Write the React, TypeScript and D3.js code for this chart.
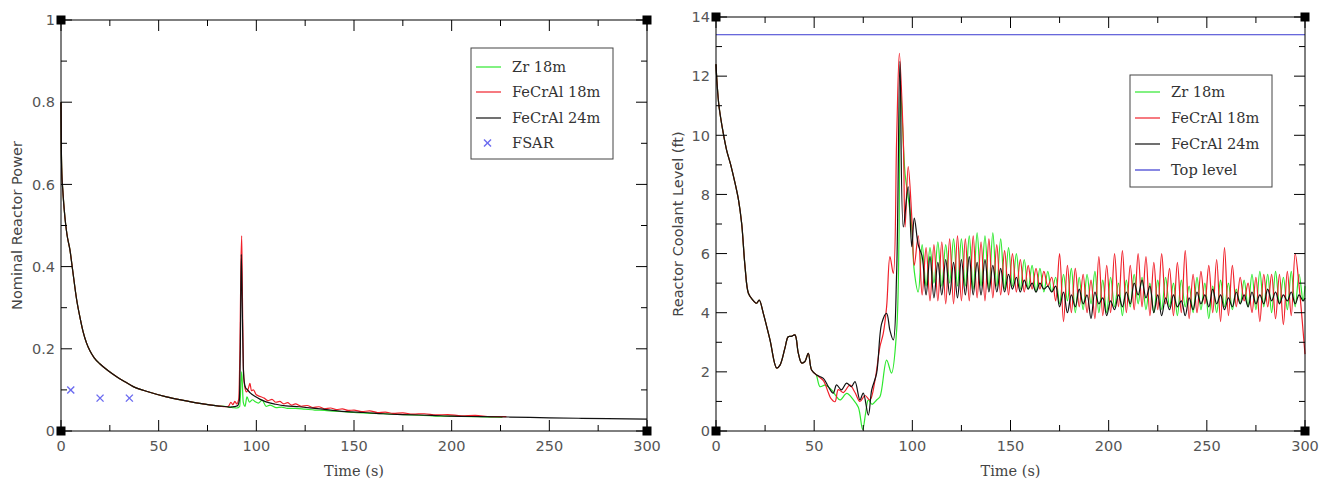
import React from 'react';
import * as d3 from 'd3';

// ---------- shared axis data ----------
const TIME_TICKS = [0, 50, 100, 150, 200, 250, 300];
const TIME_MINOR = [25, 75, 125, 175, 225, 275];
const POWER_TICKS = [0, 0.2, 0.4, 0.6, 0.8, 1];
const POWER_TICK_LABELS = ['0', '0.2', '0.4', '0.6', '0.8', '1'];
const POWER_MINOR = [0.1, 0.3, 0.5, 0.7, 0.9];
const LEVEL_TICKS = [0, 2, 4, 6, 8, 10, 12, 14];
const LEVEL_MINOR = [1, 3, 5, 7, 9, 11, 13];

// ---------- left chart: nominal reactor power ----------
const POWER_T_EARLY = [0, 0.15, 0.35, 1, 2, 3, 4.6, 6, 8, 10, 11.4, 13, 14.8, 17, 20, 24, 28.5, 33, 37, 45, 54, 62, 71, 80, 85];
const POWER_V_EARLY = [0.8, 0.7, 0.64, 0.58, 0.52, 0.48, 0.44, 0.39, 0.32, 0.27, 0.24, 0.215, 0.195, 0.178, 0.163, 0.147, 0.132, 0.119, 0.108, 0.095, 0.083, 0.075, 0.067, 0.061, 0.059];

const FE24_POWER_T = [86.5, 88, 89.5, 90.5, 91.3, 91.8, 92.3, 92.8, 93.3, 93.8, 94.5, 95.5, 97, 99, 102, 105, 110, 115, 122, 130, 138, 146, 155, 165, 175, 190, 200, 215, 230, 250, 265, 280, 300];
const FE24_POWER_V = [0.058, 0.059, 0.06, 0.062, 0.075, 0.2, 0.43, 0.3, 0.16, 0.12, 0.105, 0.1, 0.092, 0.085, 0.077, 0.071, 0.065, 0.061, 0.059, 0.055, 0.051, 0.047, 0.045, 0.042, 0.04, 0.038, 0.036, 0.035, 0.034, 0.032, 0.031, 0.03, 0.029];

const FE18_POWER_T = [86, 87, 88, 89, 90, 91, 91.6, 92.1, 92.5, 92.9, 93.4, 94, 95, 96, 96.7, 97.5, 98.5, 100, 102, 104, 106, 108, 110, 112, 114, 116, 118, 120, 123, 126, 129, 132, 135, 138, 141, 144, 147, 150, 154, 158, 162, 166, 170, 175, 180, 186, 192, 198, 205, 212, 220, 228];
const FE18_POWER_V = [0.062, 0.07, 0.064, 0.072, 0.066, 0.078, 0.2, 0.4, 0.475, 0.32, 0.15, 0.11, 0.095, 0.105, 0.116, 0.098, 0.1, 0.088, 0.084, 0.08, 0.074, 0.077, 0.07, 0.072, 0.066, 0.069, 0.063, 0.066, 0.06, 0.062, 0.057, 0.059, 0.054, 0.056, 0.052, 0.054, 0.05, 0.051, 0.047, 0.049, 0.045, 0.046, 0.043, 0.044, 0.041, 0.042, 0.039, 0.04, 0.037, 0.038, 0.035, 0.035];

const ZR_POWER_T = [86, 88, 90, 91.5, 92.5, 93.3, 94.2, 95.2, 96.5, 98, 99.5, 101, 103, 105, 107, 110, 113, 116, 120, 125, 130, 135, 140, 145, 150, 160, 170, 180, 190, 200, 210, 220, 226];
const ZR_POWER_V = [0.058, 0.057, 0.056, 0.06, 0.144, 0.07, 0.06, 0.083, 0.07, 0.076, 0.071, 0.068, 0.075, 0.06, 0.063, 0.057, 0.058, 0.055, 0.055, 0.053, 0.051, 0.05, 0.048, 0.047, 0.045, 0.043, 0.041, 0.039, 0.037, 0.036, 0.035, 0.034, 0.033];

const FSAR_T = [5, 20, 35];
const FSAR_V = [0.1, 0.08, 0.08];

// ---------- right chart: reactor coolant level ----------
const TOP_LEVEL = 13.4;

const LEVEL_T_EARLY = [0, 0.5, 1.5, 3.7, 5.4, 7.5, 9.7, 11.5, 13.1, 14.8, 16.5, 18.5, 20.7, 22, 24.1, 27.5, 30.9, 32.6, 35.1, 36.8, 38.5, 40.2, 41.9, 43.6, 45.3, 47, 48.7];
const LEVEL_V_EARLY = [12.4, 11.8, 11.0, 10.07, 9.5, 9.0, 8.38, 7.8, 7.0, 5.55, 4.66, 4.45, 4.32, 4.43, 3.98, 3.08, 2.13, 2.23, 2.8, 3.19, 3.2, 3.25, 2.64, 2.3, 2.35, 2.63, 2.06];

const FE24_LEVEL_T_MID = [51.3, 54.7, 57.2, 59.7, 61.4, 63.9, 66.5, 69, 70.8, 73.3, 75, 77.6, 79.3, 81.8, 84.4, 86.9, 88.6, 90.3, 92, 93.7, 95.4, 97.9, 99.7];
const FE24_LEVEL_V_MID = [1.89, 1.78, 1.5, 1.28, 1.56, 1.39, 1.62, 1.5, 1.67, 1.05, 1.28, 0.54, 1.39, 1.95, 3.64, 3.98, 3.4, 3.08, 5.34, 12.5, 6.9, 8.26, 6.23];

const FE18_LEVEL_T_MID = [51.3, 54.7, 57.2, 58.5, 60.6, 62.3, 64.8, 68.2, 70.8, 73.3, 75.9, 78.4, 81, 83.5, 85.2, 86.9, 88.6, 90.3, 92, 93.4, 95.4, 96.3, 97.9, 99.7];
const FE18_LEVEL_V_MID = [1.89, 1.7, 1.3, 1.1, 0.99, 1.4, 1.3, 1.55, 1.3, 1.0, 1.2, 1.05, 1.72, 2.85, 3.3, 4.2, 5.9, 5.33, 9.84, 12.77, 9.84, 6.9, 8.94, 7.25];

const ZR_LEVEL_T_MID = [51, 53, 55.5, 58.9, 61, 63.2, 66.6, 70, 72.5, 74.7, 76.2, 77.6, 79.5, 81.8, 83.5, 86.9, 89.4, 92, 93.2, 94.0, 96.3, 97.9, 99.7];
const ZR_LEVEL_V_MID = [1.9, 1.5, 1.55, 1.39, 1.2, 1.05, 1.27, 1.05, 0.8, 0.05, 0.6, 1.05, 0.9, 1.05, 1.16, 2.4, 1.96, 3.4, 6.46, 11.5, 8.7, 7.9, 6.9];

const LEVEL_T_OSC = [
  101, 103, 105, 107, 109, 111, 113, 115, 117, 119,
  121, 123, 125, 127, 129, 131, 133, 135, 137, 139,
  141, 143, 145, 147, 149, 151, 153, 155, 157, 159,
  161, 163, 165, 167, 169, 171, 173, 175, 177, 179,
  181, 183, 185, 187, 189, 191, 193, 195, 197, 199,
  201, 203, 205, 207, 209, 211, 213, 215, 217, 219,
  221, 223, 225, 227, 229, 231, 233, 235, 237, 239,
  241, 243, 245, 247, 249, 251, 253, 255, 257, 259,
  261, 263, 265, 267, 269, 271, 273, 275, 277, 279,
  281, 283, 285, 287, 289, 291, 293, 295, 297, 299,
  300,
];
const FE18_LEVEL_V_OSC = [
  5.6, 6.6, 4.6, 6.2, 4.4, 6.3, 4.4, 6.4, 4.3, 6.5,
  4.3, 6.6, 4.4, 6.5, 4.4, 6.6, 4.5, 6.4, 4.4, 6.5,
  4.5, 6.3, 4.6, 6.1, 4.6, 6.0, 4.7, 5.8, 4.7, 5.6,
  4.8, 5.5, 4.8, 5.4, 4.9, 5.2, 4.4, 6.0, 3.7, 5.6,
  4.0, 5.5, 4.2, 5.3, 4.0, 5.1, 3.8, 5.9, 3.9, 5.6,
  4.0, 6.0, 4.2, 6.1, 4.0, 5.6, 4.1, 6.0, 4.2, 5.9,
  3.9, 5.7, 4.1, 6.0, 4.3, 5.5, 3.9, 5.7, 4.0, 6.1,
  3.8, 5.3, 4.0, 5.4, 4.3, 5.6, 4.0, 5.8, 3.7, 6.2,
  3.9, 5.6, 4.2, 5.2, 4.4, 5.0, 4.0, 5.2, 3.7, 5.3,
  4.2, 5.3, 3.8, 5.3, 3.6, 5.4, 3.9, 6.0, 4.9, 3.4,
  2.6,
];
const FE24_LEVEL_V_OSC = [
  7.2, 6.3, 5.9, 4.6, 5.9, 4.5, 5.7, 4.6, 5.8, 4.6,
  5.7, 4.5, 5.8, 4.6, 5.9, 4.6, 5.7, 4.6, 5.8, 4.7,
  5.6, 4.7, 5.5, 4.7, 5.3, 4.8, 5.2, 4.7, 5.1, 4.8,
  5.0, 4.7, 5.0, 4.8, 4.9, 4.7, 4.9, 4.2, 4.7, 4.0,
  4.6, 4.2, 4.8, 4.3, 4.6, 3.8, 4.7, 4.3, 4.5, 3.9,
  4.4, 4.1, 4.6, 4.2, 4.7, 4.3, 5.0, 4.6, 5.1, 4.5,
  4.9, 4.0, 4.6, 3.9, 4.5, 4.1, 4.6, 4.2, 4.4, 3.9,
  4.5, 4.1, 4.7, 4.3, 4.6, 4.2, 4.8, 4.3, 4.6, 4.1,
  4.5, 4.2, 4.7, 4.3, 4.6, 4.2, 4.7, 4.3, 4.6, 4.3,
  4.8, 4.4, 4.7, 4.3, 4.6, 4.4, 4.7, 4.3, 4.6, 4.4,
  4.5,
];
const ZR_LEVEL_V_OSC = [
  5.4, 4.7, 6.3, 4.9, 6.2, 5.0, 6.4, 4.9, 6.3, 5.0,
  6.5, 4.9, 6.5, 4.9, 6.6, 4.8, 6.7, 4.9, 6.6, 4.8,
  6.7, 4.9, 6.5, 4.8, 6.2, 4.9, 6.0, 4.8, 5.8, 4.8,
  5.6, 4.7, 5.5, 4.7, 5.4, 4.7, 5.2, 4.3, 5.3, 4.4,
  5.5, 4.0, 5.2, 4.1, 5.3, 4.3, 5.4, 4.0, 5.1, 4.0,
  5.2, 4.2, 5.0, 3.9, 5.1, 4.2, 5.3, 4.3, 5.2, 4.1,
  5.0, 4.0, 5.1, 4.1, 5.2, 4.2, 5.0, 3.9, 5.1, 4.2,
  4.9, 4.0, 5.2, 4.1, 5.0, 3.8, 4.9, 4.0, 5.1, 4.2,
  5.0, 4.1, 4.8, 4.3, 5.1, 4.2, 5.3, 4.1, 5.4, 4.2,
  5.3, 4.0, 5.4, 4.3, 5.2, 4.1, 5.4, 4.2, 5.3, 4.4,
  4.9,
];

const SERIES_NAMES = ['Zr 18m', 'FeCrAl 18m', 'FeCrAl 24m'];
const SERIES_COLORS = ['#2ee82e', '#f0202a', '#111111'];
const TOP_COLOR = '#3a3ad0';
const FSAR_COLOR = '#6b6bf0';

type Pt = [number, number];
const zip = (t: number[], v: number[]): Pt[] => t.map((ti, i) => [ti, v[i]]);

const SANS = 'DejaVu Sans, sans-serif';
const SERIF = 'DejaVu Serif, serif';
const LABEL_COLOR = '#555';

interface FrameProps {
  x: d3.ScaleLinear<number, number>;
  y: d3.ScaleLinear<number, number>;
  yTicks: number[];
  yLabels: string[];
  yMinor: number[];
  yTitle: string;
  yTitleX: number;
}

function Frame({ x, y, yTicks, yLabels, yMinor, yTitle, yTitleX }: FrameProps) {
  const [x0, x1] = x.range();
  const [yb, yt] = y.range();
  const MAJ = 11, MIN = 6, SQ = 9;
  return (
    <g>
      <rect x={x0} y={yt} width={x1 - x0} height={yb - yt} fill="none" stroke="#000" strokeWidth={1} />
      {TIME_TICKS.map((t) => (
        <g key={'xt' + t}>
          <line x1={x(t)} x2={x(t)} y1={yb} y2={yb - MAJ} stroke="#000" />
          <line x1={x(t)} x2={x(t)} y1={yt} y2={yt + MAJ} stroke="#000" />
          <text x={x(t)} y={451} textAnchor="middle" fontFamily={SANS} fontSize={14.5} fill={LABEL_COLOR}>{t}</text>
        </g>
      ))}
      {TIME_MINOR.map((t) => (
        <g key={'xm' + t}>
          <line x1={x(t)} x2={x(t)} y1={yb} y2={yb - MIN} stroke="#000" />
          <line x1={x(t)} x2={x(t)} y1={yt} y2={yt + MIN} stroke="#000" />
        </g>
      ))}
      {yTicks.map((v, i) => (
        <g key={'yt' + v}>
          <line x1={x0} x2={x0 + MAJ} y1={y(v)} y2={y(v)} stroke="#000" />
          <line x1={x1} x2={x1 - MAJ} y1={y(v)} y2={y(v)} stroke="#000" />
          <text x={x0 - 6} y={y(v)} dy="0.36em" textAnchor="end" fontFamily={SANS} fontSize={14.5} fill={LABEL_COLOR}>{yLabels[i]}</text>
        </g>
      ))}
      {yMinor.map((v) => (
        <g key={'ym' + v}>
          <line x1={x0} x2={x0 + MIN} y1={y(v)} y2={y(v)} stroke="#000" />
          <line x1={x1} x2={x1 - MIN} y1={y(v)} y2={y(v)} stroke="#000" />
        </g>
      ))}
      {[[x0, yt], [x0, yb], [x1, yb], [x1, yt]].map(([cx, cy], i) => (
        <rect key={'sq' + i} x={cx - SQ / 2} y={cy - SQ / 2} width={SQ} height={SQ} fill="#000" />
      ))}
      <text x={(x0 + x1) / 2} y={476} textAnchor="middle" fontFamily={SERIF} fontSize={14.5} fill="#444">Time (s)</text>
      <text transform={`translate(${yTitleX},${(yt + yb) / 2}) rotate(-90)`} textAnchor="middle" dy="0.36em" fontFamily={SANS} fontSize={14.5} fill="#444">{yTitle}</text>
    </g>
  );
}

interface LegendItem { label: string; color: string; kind: 'line' | 'x'; width?: number }

function Legend({ x, y, w, h, items, rowY }: { x: number; y: number; w: number; h: number; items: LegendItem[]; rowY: number[] }) {
  return (
    <g>
      <rect x={x} y={y} width={w} height={h} fill="#fff" stroke="#444" strokeWidth={1} />
      {items.map((it, i) => (
        <g key={it.label}>
          {it.kind === 'line' ? (
            <line x1={x + 5} x2={x + 30} y1={rowY[i]} y2={rowY[i]} stroke={it.color} strokeWidth={it.width ?? 1.2} />
          ) : (
            <g stroke={it.color} strokeWidth={1.4}>
              <line x1={x + 13} x2={x + 20} y1={rowY[i] - 3.5} y2={rowY[i] + 3.5} />
              <line x1={x + 13} x2={x + 20} y1={rowY[i] + 3.5} y2={rowY[i] - 3.5} />
            </g>
          )}
          <text x={x + 41} y={rowY[i]} dy="0.36em" fontFamily={SERIF} fontSize={14.6} fill="#333">{it.label}</text>
        </g>
      ))}
    </g>
  );
}

export default function App() {
  // left chart scales
  const xL = d3.scaleLinear().domain([0, 300]).range([61, 647]);
  const yL = d3.scaleLinear().domain([0, 1]).range([431, 20]);
  // right chart scales
  const xR = d3.scaleLinear().domain([0, 300]).range([716, 1305]);
  const yR = d3.scaleLinear().domain([0, 14]).range([431, 17]);

  const powerEarly = zip(POWER_T_EARLY, POWER_V_EARLY);
  const powerSeries: Pt[][] = [
    powerEarly.concat(zip(ZR_POWER_T, ZR_POWER_V)),
    powerEarly.concat(zip(FE18_POWER_T, FE18_POWER_V)),
    powerEarly.concat(zip(FE24_POWER_T, FE24_POWER_V)),
  ];
  const levelEarly = zip(LEVEL_T_EARLY, LEVEL_V_EARLY);
  const levelSeries: Pt[][] = [
    levelEarly.concat(zip(ZR_LEVEL_T_MID, ZR_LEVEL_V_MID), zip(LEVEL_T_OSC, ZR_LEVEL_V_OSC)),
    levelEarly.concat(zip(FE18_LEVEL_T_MID, FE18_LEVEL_V_MID), zip(LEVEL_T_OSC, FE18_LEVEL_V_OSC)),
    levelEarly.concat(zip(FE24_LEVEL_T_MID, FE24_LEVEL_V_MID), zip(LEVEL_T_OSC, FE24_LEVEL_V_OSC)),
  ];

  const lineL = d3.line<Pt>().x((d) => xL(d[0])).y((d) => yL(d[1])).curve(d3.curveMonotoneX);
  const lineR = d3.line<Pt>().x((d) => xR(d[0])).y((d) => yR(d[1])).curve(d3.curveCatmullRom.alpha(0.5));

  return (
    <svg width={1328} height={482} style={{ position: 'absolute', left: 0, top: 0, background: '#fff' }}>
      <rect x={0} y={0} width={1328} height={482} fill="#fff" />
      {/* left chart */}
      {powerSeries.map((s, i) => (
        <path key={'p' + i} d={lineL(s) ?? ''} fill="none" stroke={SERIES_COLORS[i]} strokeWidth={1.2} />
      ))}
      {FSAR_T.map((t, i) => (
        <g key={'f' + i} stroke={FSAR_COLOR} strokeWidth={1.4}>
          <line x1={xL(t) - 3.5} x2={xL(t) + 3.5} y1={yL(FSAR_V[i]) - 3.5} y2={yL(FSAR_V[i]) + 3.5} />
          <line x1={xL(t) - 3.5} x2={xL(t) + 3.5} y1={yL(FSAR_V[i]) + 3.5} y2={yL(FSAR_V[i]) - 3.5} />
        </g>
      ))}
      <Frame x={xL} y={yL} yTicks={POWER_TICKS} yLabels={POWER_TICK_LABELS} yMinor={POWER_MINOR} yTitle="Nominal Reactor Power" yTitleX={17} />
      <Legend
        x={471} y={48} w={142} h={111}
        rowY={[67, 92, 118, 143]}
        items={[
          { label: SERIES_NAMES[0], color: SERIES_COLORS[0], kind: 'line' },
          { label: SERIES_NAMES[1], color: SERIES_COLORS[1], kind: 'line' },
          { label: SERIES_NAMES[2], color: SERIES_COLORS[2], kind: 'line' },
          { label: 'FSAR', color: FSAR_COLOR, kind: 'x' },
        ]}
      />

      {/* right chart */}
      <line x1={xR(0)} x2={xR(300)} y1={yR(TOP_LEVEL)} y2={yR(TOP_LEVEL)} stroke={TOP_COLOR} strokeWidth={1} />
      {levelSeries.map((s, i) => (
        <path key={'l' + i} d={lineR(s) ?? ''} fill="none" stroke={SERIES_COLORS[i]} strokeWidth={1.2} />
      ))}
      <Frame x={xR} y={yR} yTicks={LEVEL_TICKS} yLabels={LEVEL_TICKS.map(String)} yMinor={LEVEL_MINOR} yTitle="Reactor Coolant Level (ft)" yTitleX={678} />
      <Legend
        x={1130} y={75} w={142} h={112}
        rowY={[92, 118, 144, 170]}
        items={[
          { label: SERIES_NAMES[0], color: SERIES_COLORS[0], kind: 'line' },
          { label: SERIES_NAMES[1], color: SERIES_COLORS[1], kind: 'line' },
          { label: SERIES_NAMES[2], color: SERIES_COLORS[2], kind: 'line' },
          { label: 'Top level', color: TOP_COLOR, kind: 'line' },
        ]}
      />
    </svg>
  );
}
